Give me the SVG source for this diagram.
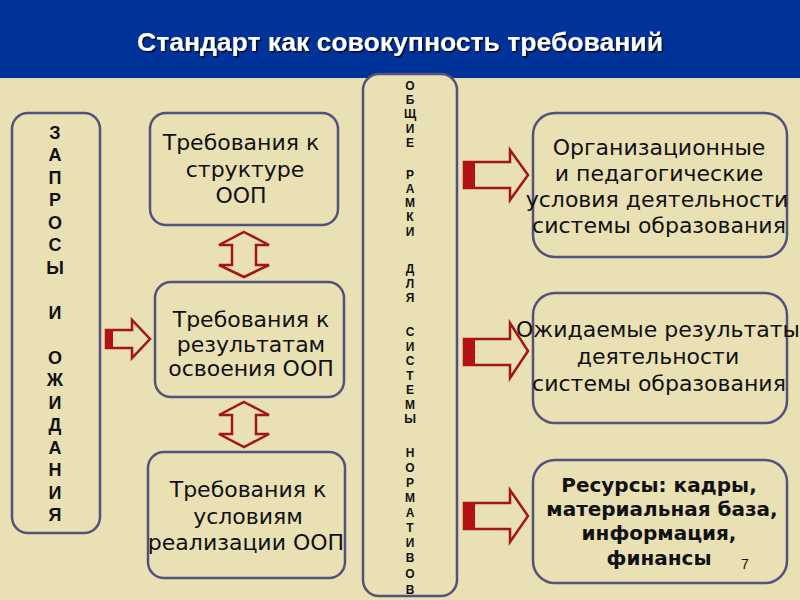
<svg xmlns="http://www.w3.org/2000/svg" width="800" height="600" viewBox="0 0 800 600">
<defs>
<style>
.box{fill:#E9E1B4;stroke:#52527c;stroke-width:2.5}
.t{font-family:"DejaVu Sans",Verdana,sans-serif;font-size:22px;fill:#111;text-anchor:middle}
.tb{font-family:"DejaVu Sans",Verdana,sans-serif;font-size:20px;font-weight:bold;fill:#111;text-anchor:middle}
.v{font-family:"Liberation Sans",Arial,sans-serif;font-size:18px;font-weight:bold;fill:#111;text-anchor:middle}
.vs{font-family:"Liberation Sans",Arial,sans-serif;font-size:12px;font-weight:bold;fill:#111;text-anchor:middle}
.arr{fill:#E9E1B4;stroke:#a31616;stroke-width:2.5;stroke-linejoin:miter}
.tail{fill:#b31212}
</style>
<filter id="sh" x="-5%" y="-20%" width="110%" height="150%">
<feDropShadow dx="1.5" dy="1.5" stdDeviation="0.5" flood-color="#000" flood-opacity="0.8"/>
</filter>
</defs>
<rect x="0" y="0" width="800" height="600" fill="#E9E1B4"/>
<rect x="0" y="0" width="800" height="78" fill="#003399"/>
<text x="400" y="51" font-family="'Liberation Sans',Arial,sans-serif" font-size="26" font-weight="bold" fill="#fff" text-anchor="middle" textLength="526" lengthAdjust="spacingAndGlyphs" filter="url(#sh)">Стандарт как совокупность требований</text>

<g id="n-zaprosy">
<rect class="box" x="12" y="113" width="88" height="420" rx="16"/>
<text class="v" x="55"><tspan x="55" y="139">З</tspan><tspan x="55" y="161">А</tspan><tspan x="55" y="184">П</tspan><tspan x="55" y="206">Р</tspan><tspan x="55" y="229">О</tspan><tspan x="55" y="251">С</tspan><tspan x="55" y="274">Ы</tspan><tspan x="55" y="319">И</tspan><tspan x="55" y="364">О</tspan><tspan x="55" y="386">Ж</tspan><tspan x="55" y="409">И</tspan><tspan x="55" y="431">Д</tspan><tspan x="55" y="454">А</tspan><tspan x="55" y="476">Н</tspan><tspan x="55" y="499">И</tspan><tspan x="55" y="521">Я</tspan></text>
</g>

<g id="n-struktura">
<rect class="box" x="150" y="113" width="188" height="112" rx="16"/>
<text class="t"><tspan x="241" y="150">Требования к</tspan><tspan x="245" y="177">структуре</tspan><tspan x="241" y="203">ООП</tspan></text>
</g>

<g id="n-rezultaty">
<rect class="box" x="155" y="282" width="189" height="115" rx="16"/>
<text class="t"><tspan x="251" y="327">Требования к</tspan><tspan x="251" y="352">результатам</tspan><tspan x="251" y="376">освоения ООП</tspan></text>
</g>

<g id="n-usloviya">
<rect class="box" x="148" y="452" width="197" height="126" rx="16"/>
<text class="t"><tspan x="248" y="497">Требования к</tspan><tspan x="248" y="524">условиям</tspan><tspan x="246" y="550">реализации ООП</tspan></text>
</g>

<g id="n-ramki">
<rect class="box" x="363" y="74" width="94" height="522" rx="16"/>
<text class="vs"><tspan x="410" y="90">О</tspan><tspan x="410" y="104">Б</tspan><tspan x="410" y="118">Щ</tspan><tspan x="410" y="133">И</tspan><tspan x="410" y="147">Е</tspan><tspan x="410" y="179">Р</tspan><tspan x="410" y="193">А</tspan><tspan x="410" y="207">М</tspan><tspan x="410" y="221">К</tspan><tspan x="410" y="236">И</tspan><tspan x="410" y="273">Д</tspan><tspan x="410" y="288">Л</tspan><tspan x="410" y="302">Я</tspan><tspan x="410" y="336">С</tspan><tspan x="410" y="351">И</tspan><tspan x="410" y="365">С</tspan><tspan x="410" y="380">Т</tspan><tspan x="410" y="394">Е</tspan><tspan x="410" y="409">М</tspan><tspan x="410" y="423">Ы</tspan><tspan x="410" y="457">Н</tspan><tspan x="410" y="472">О</tspan><tspan x="410" y="487">Р</tspan><tspan x="410" y="502">М</tspan><tspan x="410" y="517">А</tspan><tspan x="410" y="532">Т</tspan><tspan x="410" y="547">И</tspan><tspan x="410" y="562">В</tspan><tspan x="410" y="578">О</tspan><tspan x="410" y="594">В</tspan></text>
</g>

<g id="n-org">
<rect class="box" x="533" y="113" width="254" height="144" rx="22"/>
<text class="t"><tspan x="659" y="155">Организационные</tspan><tspan x="659" y="181">и педагогические</tspan><tspan x="657" y="207">условия деятельности</tspan><tspan x="659" y="233">системы образования</tspan></text>
</g>

<g id="n-ozhid">
<rect class="box" x="533" y="293" width="254" height="130" rx="22"/>
<text class="t"><tspan x="658" y="337">Ожидаемые результаты</tspan><tspan x="658" y="364">деятельности</tspan><tspan x="659" y="391">системы образования</tspan></text>
</g>

<g id="n-resursy">
<rect class="box" x="533" y="460" width="254" height="123" rx="22"/>
<text class="tb"><tspan x="659" y="492">Ресурсы: кадры,</tspan><tspan x="662" y="516">материальная база,</tspan><tspan x="659" y="540">информация,</tspan><tspan x="659" y="565">финансы</tspan></text>
<text x="745" y="569" font-family="'Liberation Sans',Arial,sans-serif" font-size="14" fill="#111" text-anchor="middle">7</text>
</g>

<g id="connectors">
<path class="arr" d="M244,232 L269,245 L256,245 L256,265 L269,265 L244,277 L219,265 L232,265 L232,245 L219,245 Z"/>
<path class="arr" d="M244,402 L269,415 L256,415 L256,434 L269,434 L244,447 L219,434 L232,434 L232,415 L219,415 Z"/>
<path class="arr" d="M106,330 L132,330 L132,320 L150,339 L132,358 L132,348 L106,348 Z"/>
<rect class="tail" x="105" y="329" width="8" height="20"/>
<path class="arr" d="M464,162 L510,162 L510,150 L528,175 L510,200 L510,188 L464,188 Z"/>
<rect class="tail" x="463" y="161" width="12" height="28"/>
<path class="arr" d="M464,339 L510,339 L510,323 L528,351 L510,378 L510,365 L464,365 Z"/>
<rect class="tail" x="463" y="338" width="12" height="28"/>
<path class="arr" d="M464,503 L510,503 L510,490 L528,516 L510,542 L510,529 L464,529 Z"/>
<rect class="tail" x="463" y="502" width="12" height="28"/>
</g>
</svg>
